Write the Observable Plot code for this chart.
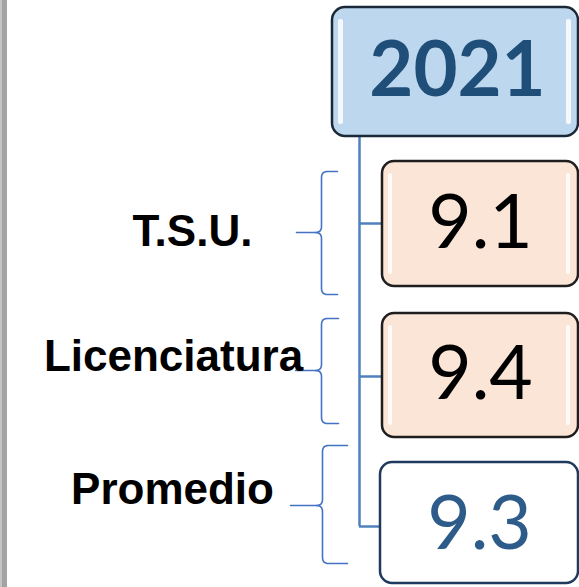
<!DOCTYPE html>
<html>
<head>
<meta charset="utf-8">
<script src="https://cdn.jsdelivr.net/npm/d3@7"></script>
<script src="https://cdn.jsdelivr.net/npm/@observablehq/plot@0.6"></script>
<style>
  html, body { margin: 0; padding: 0; background: #ffffff; }
  #chart svg { display: block; }
</style>
</head>
<body>
<div id="chart"></div>
<script>
// ---- data ----
const headerLabel = "2021";
const categories = ["T.S.U.", "Licenciatura", "Promedio"];
const values = [9.1, 9.4, 9.3];

// ---- layout (pixels in a 579x587 frame) ----
const W = 579, H = 587;
const header = {x1: 332, x2: 578, y1: 7, y2: 136};
const boxX1 = 382, boxX2 = 578;
const boxTop = [161, 313, 462];
const boxBottom = [286, 437, 583];
const connY = [223, 376, 526];
const valueBaseline = [247, 398, 548];
const spineX = 359;
const labelX = [192, 173, 172];
const labelBaseline = [245, 370, 503];
const braces = [
  {x: 321, top: 171, tip: 232, bottom: 294, right: 337, left: 296},
  {x: 321, top: 318, tip: 370, bottom: 423, right: 338, left: 295},
  {x: 322, top: 445, tip: 505, bottom: 563, right: 347, left: 290}
];

const rows = categories.map((c, i) => ({
  category: c,
  value: values[i],
  text: values[i].toFixed(1),
  x1: i === 2 ? 380 : boxX1, x2: boxX2,
  y1: boxTop[i], y2: boxBottom[i],
  cy: connY[i],
  vb: valueBaseline[i],
  lx: labelX[i], ly: labelBaseline[i],
  kind: i === 2 ? "avg" : "level"
}));

// brace polylines
function quad(p0, c, p2, n = 6) {
  const pts = [];
  for (let k = 0; k <= n; k++) {
    const t = k / n;
    pts.push([
      (1 - t) * (1 - t) * p0[0] + 2 * (1 - t) * t * c[0] + t * t * p2[0],
      (1 - t) * (1 - t) * p0[1] + 2 * (1 - t) * t * c[1] + t * t * p2[1]
    ]);
  }
  return pts;
}
const bracePts = [];
braces.forEach((b, i) => {
  const r = 6;
  const upper = [
    [b.right, b.top],
    ...quad([b.x + r, b.top], [b.x, b.top], [b.x, b.top + r]),
    ...quad([b.x, b.tip - r], [b.x, b.tip], [b.x - r, b.tip]),
    [b.left, b.tip]
  ];
  const lower = [
    ...quad([b.x - r, b.tip], [b.x, b.tip], [b.x, b.tip + r]),
    ...quad([b.x, b.bottom - r], [b.x, b.bottom], [b.x + r, b.bottom]),
    [b.right, b.bottom]
  ];
  upper.forEach(([x, y]) => bracePts.push({x, y, seg: i + "u"}));
  lower.forEach(([x, y]) => bracePts.push({x, y, seg: i + "l"}));
});

const highlights = [
  {x1: header.x1 + 6, x2: header.x1 + 11, y1: header.y1 + 12, y2: header.y2 - 12},
  {x1: header.x2 - 12, x2: header.x2 - 7, y1: header.y1 + 12, y2: header.y2 - 12},
  ...rows.filter(r => r.kind === "level").flatMap(r => [
    {x1: r.x1 + 6, x2: r.x1 + 10, y1: r.y1 + 12, y2: r.y2 - 12},
    {x1: r.x2 - 12, x2: r.x2 - 8, y1: r.y1 + 12, y2: r.y2 - 12}
  ])
];

const plot = Plot.plot({
  width: W,
  height: H,
  margin: 0,
  x: {domain: [0, W], range: [0, W], axis: null},
  y: {domain: [0, H], range: [0, H], axis: null},
  marks: [
    // left frame strip
    Plot.rect([0], {x1: 0, x2: 2, y1: 0, y2: H, fill: "#c4c4c4"}),
    Plot.rect([0], {x1: 2, x2: 7, y1: 0, y2: H, fill: "#a3a3a3"}),
    // connectors
    Plot.ruleX([spineX], {y1: header.y2, y2: connY[2], stroke: "#4f81bd", strokeWidth: 2.5}),
    Plot.ruleY(rows, {y: "cy", x1: spineX, x2: "x1", stroke: "#4f81bd", strokeWidth: 2.5}),
    // braces
    Plot.line(bracePts, {x: "x", y: "y", z: "seg", stroke: "#4472c4", strokeWidth: 1.6, curve: "linear"}),
    // header box
    Plot.rect([header], {x1: "x1", x2: "x2", y1: "y1", y2: "y2", fill: "#bdd7ee", stroke: "#1b2838", strokeWidth: 2.5, rx: 13}),
    // value boxes
    Plot.rect(rows, {x1: "x1", x2: "x2", y1: "y1", y2: "y2",
      fill: d => d.kind === "avg" ? "#ffffff" : "#fbe5d6",
      stroke: d => d.kind === "avg" ? "#1f3a5c" : "#1e1e1e",
      strokeWidth: 2.5, rx: 12}),
    // glossy highlights
    Plot.rect(highlights, {x1: "x1", x2: "x2", y1: "y1", y2: "y2", fill: "#ffffff", fillOpacity: 0.85, rx: 2}),
    // header text
    Plot.text([headerLabel], {x: (header.x1 + header.x2) / 2 + 2, y: 95, text: d => d,
      lineAnchor: "bottom", fontFamily: "Lato, 'Open Sans', sans-serif", fontWeight: "bold",
      fontSize: 76, fill: "#1f4e79"}),
    // values
    Plot.text(rows, {x: d => (d.x1 + d.x2) / 2, y: "vb", text: "text",
      lineAnchor: "bottom", fontFamily: "Lato, 'Open Sans', sans-serif", fontSize: 75,
      fill: d => d.kind === "avg" ? "#2e5c8a" : "#000000"}),
    // category labels
    Plot.text(rows, {x: "lx", y: "ly", text: "category", lineAnchor: "bottom",
      fontFamily: "'Liberation Sans', Arial, sans-serif", fontWeight: "bold", fontSize: 44, fill: "#000000"})
  ]
});
document.getElementById("chart").appendChild(plot);
</script>
</body>
</html>
